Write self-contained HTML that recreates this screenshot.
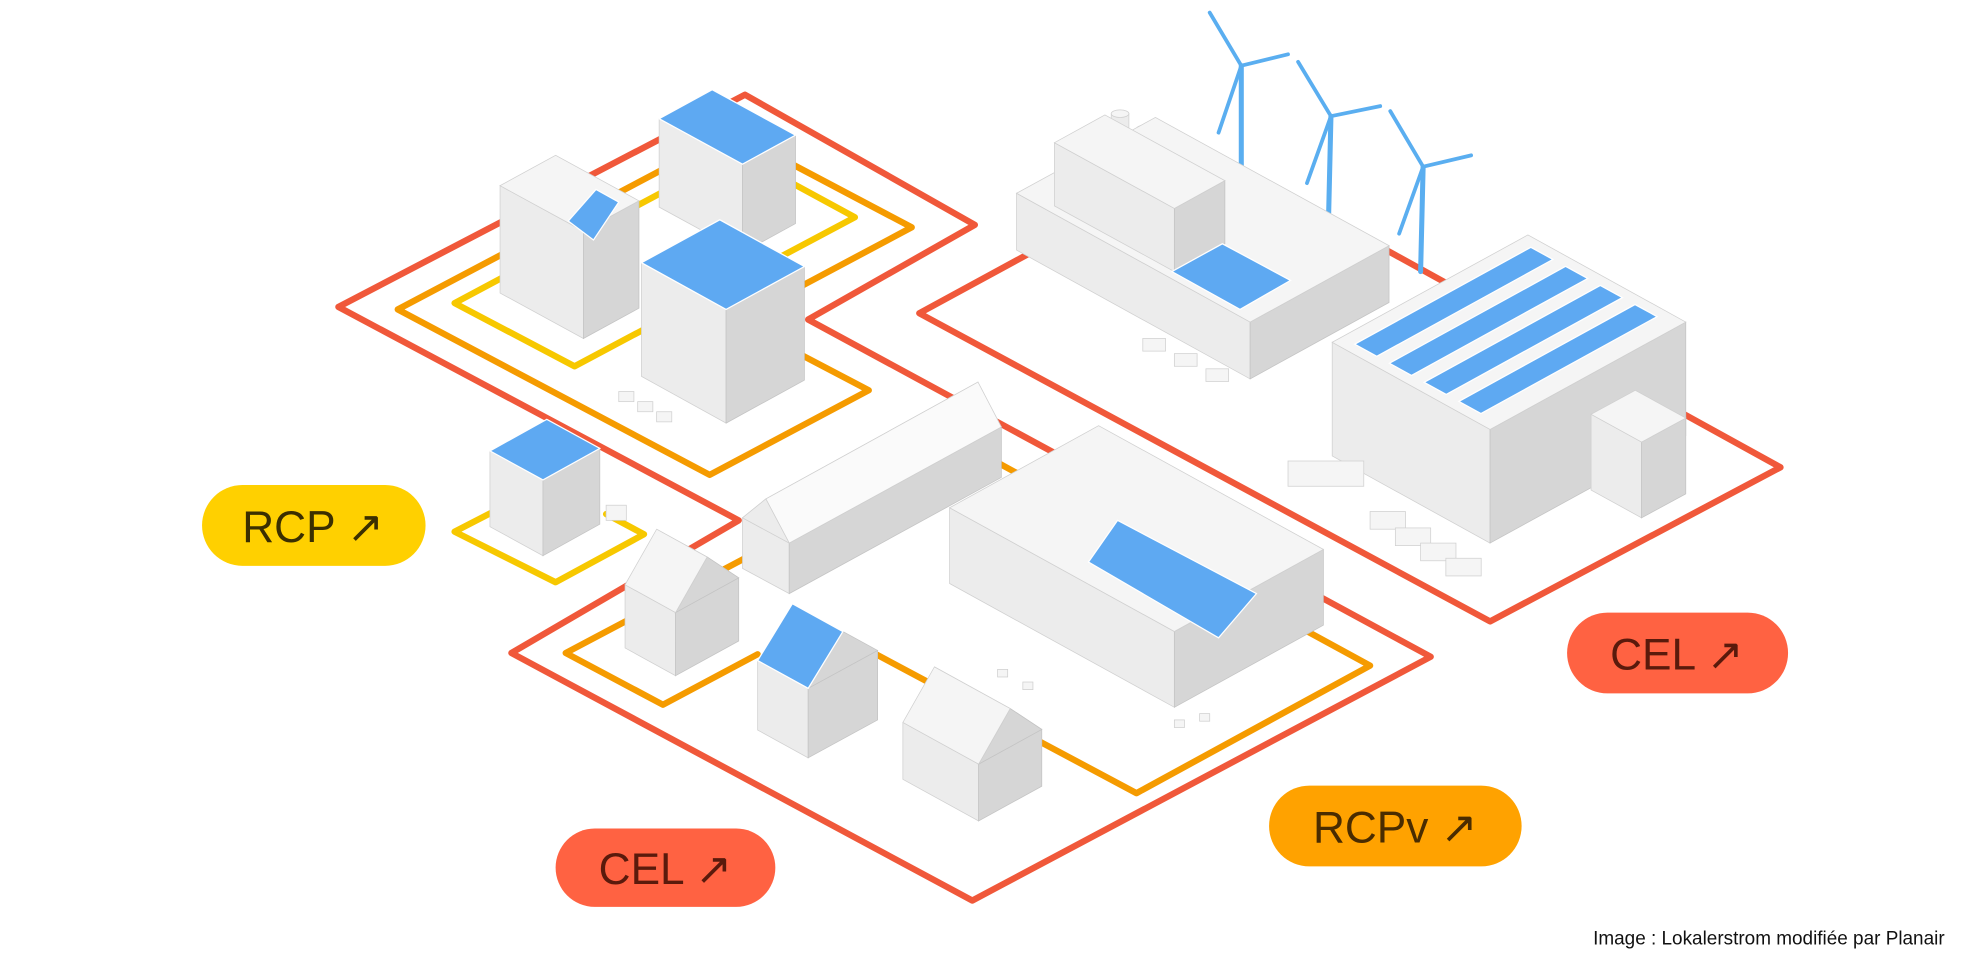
<!DOCTYPE html>
<html><head><meta charset="utf-8"><style>
html,body{margin:0;padding:0;background:#fff;}
svg{display:block}
.t{fill:#f5f5f5;stroke:#d0d0d0;stroke-width:.6}
.l{fill:#ececec;stroke:#d0d0d0;stroke-width:.6}
.r{fill:#d6d6d6;stroke:#c4c4c4;stroke-width:.6}
.b{fill:#5ea9f2;stroke:#fff;stroke-width:1}
.pill{font-family:"Liberation Sans",sans-serif;font-size:35px;text-anchor:middle}
</style></head><body>
<svg width="1980" height="970" viewBox="0 0 1568 768" preserveAspectRatio="none" xmlns="http://www.w3.org/2000/svg">
<rect width="1568" height="768" fill="#fff"/>
<g fill="none" stroke-linejoin="round" stroke-linecap="round" stroke-width="5">
<!-- red loops -->
<path d="M268,243 L590,75 L772,178 L640,253 L1133,520 L770,713 L405,517 L585,412 Z" stroke="#f0583a"/>
<path d="M728,248 L960,122 L1410,370 L1180,492 Z" stroke="#f0583a"/>
<!-- orange top -->
<path d="M315,245 L580,105 L722,180 L583,254 L688,309 L562,376 Z" stroke="#f59b00"/>
<!-- yellow top -->
<path d="M360,240 L583,121 L677,172 L455,290 Z" stroke="#f7c800"/>
<!-- orange bottom -->
<path d="M660,500 L900,628 L1085,527 L762,351 L448,517 L525,558 L600,518" stroke="#f59b00"/>
<!-- yellow small -->
<path d="M420,390 L360,421 L440,461 L510,423 L480,407" stroke="#f7c800"/>
</g>

<!-- wind turbines -->
<g stroke="#5aaef0" stroke-linecap="round" fill="none">
<line x1="983" y1="52" x2="983" y2="135" stroke-width="4"/>
<line x1="983" y1="52" x2="958" y2="10" stroke-width="3"/>
<line x1="983" y1="52" x2="1020" y2="43" stroke-width="3"/>
<line x1="983" y1="52" x2="965" y2="105" stroke-width="3"/>
<line x1="1054" y1="92" x2="1052" y2="177" stroke-width="4"/>
<line x1="1054" y1="92" x2="1028" y2="49" stroke-width="3"/>
<line x1="1054" y1="92" x2="1093" y2="84" stroke-width="3"/>
<line x1="1054" y1="92" x2="1035" y2="145" stroke-width="3"/>
<line x1="1127" y1="132" x2="1125" y2="215" stroke-width="4"/>
<line x1="1127" y1="132" x2="1101" y2="88" stroke-width="3"/>
<line x1="1127" y1="132" x2="1165" y2="123" stroke-width="3"/>
<line x1="1127" y1="132" x2="1108" y2="185" stroke-width="3"/>
</g>

<!-- factory -->
<rect x="880" y="90" width="14" height="70" class="l"/><ellipse cx="887" cy="90" rx="7" ry="3" class="t"/>
<rect x="900" y="102" width="14" height="62" class="r"/><ellipse cx="907" cy="102" rx="7" ry="3" class="t"/>
<polygon class="l" points="805,198 990,300 990,255 805,153"/>
<polygon class="r" points="990,300 1100,239.5 1100,194.5 990,255"/>
<polygon class="t" points="990,255 805,153 915,93 1100,194.5"/>
<polygon class="l" points="835,163 930,215 930,165 835,113"/>
<polygon class="r" points="930,215 970,193 970,143 930,165"/>
<polygon class="t" points="930,165 835,113 875,91 970,143"/>
<polygon class="b" points="928,215 968,193 1022,222 982,245"/>
<g class="t"><rect x="905" y="268" width="18" height="10"/><rect x="930" y="280" width="18" height="10"/><rect x="955" y="292" width="18" height="10"/></g>

<!-- warehouse -->
<polygon class="l" points="1055,361 1180,430 1180,340 1055,271"/>
<polygon class="r" points="1180,430 1335,345 1335,255 1180,340"/>
<polygon class="t" points="1180,340 1055,271 1210,186 1335,255"/>
<polygon class="b" points="1072.8,272.5 1212.3,195.8 1229.8,205.4 1090.3,282.1"/>
<polygon class="b" points="1100.3,287.6 1239.8,210.9 1257.3,220.5 1117.8,297.2"/>
<polygon class="b" points="1127.8,302.7 1267.3,226 1284.8,235.6 1145.3,312.3"/>
<polygon class="b" points="1155.3,317.8 1294.8,241.1 1312.3,250.7 1172.8,327.4"/>
<polygon class="l" points="1260,388 1300,410 1300,350 1260,328"/>
<polygon class="r" points="1300,410 1335,391 1335,331 1300,350"/>
<polygon class="t" points="1300,350 1260,328 1295,309 1335,331"/>
<g class="t"><rect x="1020" y="365" width="60" height="20"/><rect x="1085" y="405" width="28" height="14"/><rect x="1105" y="418" width="28" height="14"/><rect x="1125" y="430" width="28" height="14"/><rect x="1145" y="442" width="28" height="14"/></g>

<!-- building A -->
<polygon class="l" points="522,164 588,200 588,130 522,94"/>
<polygon class="r" points="588,200 630,177 630,107 588,130"/>
<polygon class="b" points="588,130 522,94 564,71 630,107"/>
<!-- building B -->
<polygon class="l" points="396,232 462,268 462,183 396,147"/>
<polygon class="r" points="462,268 506,244 506,159 462,183"/>
<polygon class="t" points="462,183 396,147 440,123 506,159"/>
<polygon class="b" points="450,175 472,150 490,160 470,190"/>
<!-- building C -->
<polygon class="l" points="508,298 575,335 575,245 508,208"/>
<polygon class="r" points="575,335 637,301 637,211 575,245"/>
<polygon class="b" points="575,245 508,208 570,174 637,211"/>
<g class="t"><rect x="490" y="310" width="12" height="8"/><rect x="505" y="318" width="12" height="8"/><rect x="520" y="326" width="12" height="8"/></g>
<!-- building D -->
<polygon class="l" points="388,417 430,440 430,380 388,357"/>
<polygon class="r" points="430,440 475,415 475,355 430,380"/>
<polygon class="b" points="430,380 388,357 433,332 475,355"/>
<rect x="480" y="400" width="16" height="12" class="t"/>

<!-- row houses E -->
<polygon class="l" points="588,450 625,470 625,430 588,410"/>
<polygon class="r" points="625,470 793,378 793,338 625,430"/>
<polygon class="t" points="588,410 606.5,395 774.5,302.5 756,317"/>
<polygon class="t" points="625,430 606.5,395 774.5,302.5 793,338" style="fill:#fafafa"/>
<polygon class="l" points="588,410 625,430 606.5,395"/>

<!-- barn H -->
<polygon class="l" points="752,462 930,560 930,500 752,402"/>
<polygon class="r" points="930,560 1048,495 1048,435 930,500"/>
<polygon class="t" points="930,500 752,402 870,337 1048,435"/>
<polygon class="b" points="862,445 885,412 995,470 965,505"/>
<g class="t"><rect x="790" y="530" width="8" height="6"/><rect x="810" y="540" width="8" height="6"/><rect x="930" y="570" width="8" height="6"/><rect x="950" y="565" width="8" height="6"/></g>

<!-- house 1 -->
<polygon class="l" points="495,513 535,535 535,485 495,463"/>
<polygon class="r" points="535,535 585,507.5 585,457.5 535,485"/>
<polygon class="t" points="520,419 560,441 585,457.5 545,435.5"/>
<polygon class="r" points="535,485 585,457.5 560,441"/>
<polygon class="t" points="495,463 535,485 560,441 520,419"/>
<!-- house 2 -->
<polygon class="l" points="600,578 640,600 640,545 600,523"/>
<polygon class="r" points="640,600 695,570 695,515 640,545"/>
<polygon class="r" points="640,545 695,515 667.5,500"/>
<polygon class="b" points="600,523 640,545 667.5,500 627.5,478"/>
<!-- house 3 -->
<polygon class="l" points="715,617 775,650 775,605 715,572"/>
<polygon class="r" points="775,650 825,622.5 825,577.5 775,605"/>
<polygon class="t" points="740,528 800,561 825,577.5 765,544.5"/>
<polygon class="r" points="775,605 825,577.5 800,561"/>
<polygon class="t" points="715,572 775,605 800,561 740,528"/>

<!-- pills -->
<rect x="160" y="384" width="177" height="64" rx="32" fill="#ffd000"/>
<text x="248" y="429" class="pill" fill="#3b2f00">RCP ↗</text>
<rect x="1241" y="485" width="175" height="64" rx="32" fill="#ff6242"/>
<text x="1328" y="530" class="pill" fill="#5a1a0c">CEL ↗</text>
<rect x="1005" y="622" width="200" height="64" rx="32" fill="#ffa200"/>
<text x="1105" y="667" class="pill" fill="#4a2c00">RCPv ↗</text>
<rect x="440" y="656" width="174" height="62" rx="31" fill="#ff6242"/>
<text x="527" y="700" class="pill" fill="#5a1a0c">CEL ↗</text>

<text x="1540" y="748" text-anchor="end" font-family="Liberation Sans, sans-serif" font-size="15" fill="#111">Image : Lokalerstrom modifiée par Planair</text>
</svg>
</body></html>
